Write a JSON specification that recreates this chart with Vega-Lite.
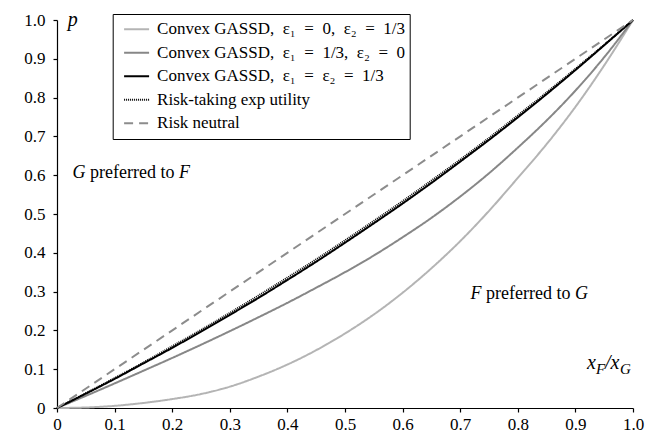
{
  "$schema": "https://vega.github.io/schema/vega-lite/v6.json",
  "width": 576,
  "height": 388,
  "autosize": {"type": "none"},
  "padding": {"left": 57, "top": 20, "right": 24, "bottom": 26},
  "background": "white",
  "config": {
    "view": {"stroke": null},
    "axis": {"grid": false, "domainColor": "black", "tickColor": "black", "labelColor": "black", "labelFont": "Liberation Serif", "labelFontSize": 17, "tickSize": 4, "title": null, "domainWidth": 1.2, "tickWidth": 1.2, "labelOverlap": false},
    "text": {"font": "Liberation Serif", "color": "black"}
  },
  "datasets": {
    "curves": [
      {"s": "Convex GASSD,\u2002ε₁\u2002=\u20020,\u2002ε₂\u2002=\u20021/3", "x": 0, "p": 0},
      {"s": "Convex GASSD,\u2002ε₁\u2002=\u20020,\u2002ε₂\u2002=\u20021/3", "x": 0.05, "p": 0.0013},
      {"s": "Convex GASSD,\u2002ε₁\u2002=\u20020,\u2002ε₂\u2002=\u20021/3", "x": 0.1, "p": 0.0055},
      {"s": "Convex GASSD,\u2002ε₁\u2002=\u20020,\u2002ε₂\u2002=\u20021/3", "x": 0.15, "p": 0.013},
      {"s": "Convex GASSD,\u2002ε₁\u2002=\u20020,\u2002ε₂\u2002=\u20021/3", "x": 0.2, "p": 0.023},
      {"s": "Convex GASSD,\u2002ε₁\u2002=\u20020,\u2002ε₂\u2002=\u20021/3", "x": 0.25, "p": 0.036},
      {"s": "Convex GASSD,\u2002ε₁\u2002=\u20020,\u2002ε₂\u2002=\u20021/3", "x": 0.3, "p": 0.055},
      {"s": "Convex GASSD,\u2002ε₁\u2002=\u20020,\u2002ε₂\u2002=\u20021/3", "x": 0.35, "p": 0.081},
      {"s": "Convex GASSD,\u2002ε₁\u2002=\u20020,\u2002ε₂\u2002=\u20021/3", "x": 0.4, "p": 0.112},
      {"s": "Convex GASSD,\u2002ε₁\u2002=\u20020,\u2002ε₂\u2002=\u20021/3", "x": 0.45, "p": 0.149},
      {"s": "Convex GASSD,\u2002ε₁\u2002=\u20020,\u2002ε₂\u2002=\u20021/3", "x": 0.5, "p": 0.192},
      {"s": "Convex GASSD,\u2002ε₁\u2002=\u20020,\u2002ε₂\u2002=\u20021/3", "x": 0.55, "p": 0.241},
      {"s": "Convex GASSD,\u2002ε₁\u2002=\u20020,\u2002ε₂\u2002=\u20021/3", "x": 0.6, "p": 0.297},
      {"s": "Convex GASSD,\u2002ε₁\u2002=\u20020,\u2002ε₂\u2002=\u20021/3", "x": 0.65, "p": 0.36},
      {"s": "Convex GASSD,\u2002ε₁\u2002=\u20020,\u2002ε₂\u2002=\u20021/3", "x": 0.7, "p": 0.43},
      {"s": "Convex GASSD,\u2002ε₁\u2002=\u20020,\u2002ε₂\u2002=\u20021/3", "x": 0.75, "p": 0.508},
      {"s": "Convex GASSD,\u2002ε₁\u2002=\u20020,\u2002ε₂\u2002=\u20021/3", "x": 0.8, "p": 0.593},
      {"s": "Convex GASSD,\u2002ε₁\u2002=\u20020,\u2002ε₂\u2002=\u20021/3", "x": 0.85, "p": 0.68},
      {"s": "Convex GASSD,\u2002ε₁\u2002=\u20020,\u2002ε₂\u2002=\u20021/3", "x": 0.9, "p": 0.776},
      {"s": "Convex GASSD,\u2002ε₁\u2002=\u20020,\u2002ε₂\u2002=\u20021/3", "x": 0.95, "p": 0.883},
      {"s": "Convex GASSD,\u2002ε₁\u2002=\u20020,\u2002ε₂\u2002=\u20021/3", "x": 1, "p": 1},
      {"s": "Convex GASSD,\u2002ε₁\u2002=\u20021/3,\u2002ε₂\u2002=\u20020", "x": 0, "p": 0},
      {"s": "Convex GASSD,\u2002ε₁\u2002=\u20021/3,\u2002ε₂\u2002=\u20020", "x": 0.05, "p": 0.0313},
      {"s": "Convex GASSD,\u2002ε₁\u2002=\u20021/3,\u2002ε₂\u2002=\u20020", "x": 0.1, "p": 0.0633},
      {"s": "Convex GASSD,\u2002ε₁\u2002=\u20021/3,\u2002ε₂\u2002=\u20020", "x": 0.15, "p": 0.096},
      {"s": "Convex GASSD,\u2002ε₁\u2002=\u20021/3,\u2002ε₂\u2002=\u20020", "x": 0.2, "p": 0.129},
      {"s": "Convex GASSD,\u2002ε₁\u2002=\u20021/3,\u2002ε₂\u2002=\u20020", "x": 0.25, "p": 0.163},
      {"s": "Convex GASSD,\u2002ε₁\u2002=\u20021/3,\u2002ε₂\u2002=\u20020", "x": 0.3, "p": 0.198},
      {"s": "Convex GASSD,\u2002ε₁\u2002=\u20021/3,\u2002ε₂\u2002=\u20020", "x": 0.35, "p": 0.234},
      {"s": "Convex GASSD,\u2002ε₁\u2002=\u20021/3,\u2002ε₂\u2002=\u20020", "x": 0.4, "p": 0.271},
      {"s": "Convex GASSD,\u2002ε₁\u2002=\u20021/3,\u2002ε₂\u2002=\u20020", "x": 0.45, "p": 0.31},
      {"s": "Convex GASSD,\u2002ε₁\u2002=\u20021/3,\u2002ε₂\u2002=\u20020", "x": 0.5, "p": 0.35},
      {"s": "Convex GASSD,\u2002ε₁\u2002=\u20021/3,\u2002ε₂\u2002=\u20020", "x": 0.55, "p": 0.393},
      {"s": "Convex GASSD,\u2002ε₁\u2002=\u20021/3,\u2002ε₂\u2002=\u20020", "x": 0.6, "p": 0.44},
      {"s": "Convex GASSD,\u2002ε₁\u2002=\u20021/3,\u2002ε₂\u2002=\u20020", "x": 0.65, "p": 0.49},
      {"s": "Convex GASSD,\u2002ε₁\u2002=\u20021/3,\u2002ε₂\u2002=\u20020", "x": 0.7, "p": 0.545},
      {"s": "Convex GASSD,\u2002ε₁\u2002=\u20021/3,\u2002ε₂\u2002=\u20020", "x": 0.75, "p": 0.605},
      {"s": "Convex GASSD,\u2002ε₁\u2002=\u20021/3,\u2002ε₂\u2002=\u20020", "x": 0.8, "p": 0.671},
      {"s": "Convex GASSD,\u2002ε₁\u2002=\u20021/3,\u2002ε₂\u2002=\u20020", "x": 0.85, "p": 0.741},
      {"s": "Convex GASSD,\u2002ε₁\u2002=\u20021/3,\u2002ε₂\u2002=\u20020", "x": 0.9, "p": 0.818},
      {"s": "Convex GASSD,\u2002ε₁\u2002=\u20021/3,\u2002ε₂\u2002=\u20020", "x": 0.95, "p": 0.904},
      {"s": "Convex GASSD,\u2002ε₁\u2002=\u20021/3,\u2002ε₂\u2002=\u20020", "x": 1, "p": 1},
      {"s": "Convex GASSD,\u2002ε₁\u2002=\u2002ε₂\u2002=\u20021/3", "x": 0, "p": 0},
      {"s": "Convex GASSD,\u2002ε₁\u2002=\u2002ε₂\u2002=\u20021/3", "x": 0.05, "p": 0.037},
      {"s": "Convex GASSD,\u2002ε₁\u2002=\u2002ε₂\u2002=\u20021/3", "x": 0.1, "p": 0.075},
      {"s": "Convex GASSD,\u2002ε₁\u2002=\u2002ε₂\u2002=\u20021/3", "x": 0.15, "p": 0.115},
      {"s": "Convex GASSD,\u2002ε₁\u2002=\u2002ε₂\u2002=\u20021/3", "x": 0.2, "p": 0.155},
      {"s": "Convex GASSD,\u2002ε₁\u2002=\u2002ε₂\u2002=\u20021/3", "x": 0.25, "p": 0.197},
      {"s": "Convex GASSD,\u2002ε₁\u2002=\u2002ε₂\u2002=\u20021/3", "x": 0.3, "p": 0.24},
      {"s": "Convex GASSD,\u2002ε₁\u2002=\u2002ε₂\u2002=\u20021/3", "x": 0.35, "p": 0.284},
      {"s": "Convex GASSD,\u2002ε₁\u2002=\u2002ε₂\u2002=\u20021/3", "x": 0.4, "p": 0.33},
      {"s": "Convex GASSD,\u2002ε₁\u2002=\u2002ε₂\u2002=\u20021/3", "x": 0.45, "p": 0.377},
      {"s": "Convex GASSD,\u2002ε₁\u2002=\u2002ε₂\u2002=\u20021/3", "x": 0.5, "p": 0.426},
      {"s": "Convex GASSD,\u2002ε₁\u2002=\u2002ε₂\u2002=\u20021/3", "x": 0.55, "p": 0.476},
      {"s": "Convex GASSD,\u2002ε₁\u2002=\u2002ε₂\u2002=\u20021/3", "x": 0.6, "p": 0.527},
      {"s": "Convex GASSD,\u2002ε₁\u2002=\u2002ε₂\u2002=\u20021/3", "x": 0.65, "p": 0.58},
      {"s": "Convex GASSD,\u2002ε₁\u2002=\u2002ε₂\u2002=\u20021/3", "x": 0.7, "p": 0.635},
      {"s": "Convex GASSD,\u2002ε₁\u2002=\u2002ε₂\u2002=\u20021/3", "x": 0.75, "p": 0.691},
      {"s": "Convex GASSD,\u2002ε₁\u2002=\u2002ε₂\u2002=\u20021/3", "x": 0.8, "p": 0.749},
      {"s": "Convex GASSD,\u2002ε₁\u2002=\u2002ε₂\u2002=\u20021/3", "x": 0.85, "p": 0.809},
      {"s": "Convex GASSD,\u2002ε₁\u2002=\u2002ε₂\u2002=\u20021/3", "x": 0.9, "p": 0.871},
      {"s": "Convex GASSD,\u2002ε₁\u2002=\u2002ε₂\u2002=\u20021/3", "x": 0.95, "p": 0.935},
      {"s": "Convex GASSD,\u2002ε₁\u2002=\u2002ε₂\u2002=\u20021/3", "x": 1, "p": 1},
      {"s": "Risk-taking exp utility", "x": 0, "p": 0},
      {"s": "Risk-taking exp utility", "x": 0.05, "p": 0.038},
      {"s": "Risk-taking exp utility", "x": 0.1, "p": 0.077},
      {"s": "Risk-taking exp utility", "x": 0.15, "p": 0.117},
      {"s": "Risk-taking exp utility", "x": 0.2, "p": 0.159},
      {"s": "Risk-taking exp utility", "x": 0.25, "p": 0.201},
      {"s": "Risk-taking exp utility", "x": 0.3, "p": 0.245},
      {"s": "Risk-taking exp utility", "x": 0.35, "p": 0.29},
      {"s": "Risk-taking exp utility", "x": 0.4, "p": 0.336},
      {"s": "Risk-taking exp utility", "x": 0.45, "p": 0.383},
      {"s": "Risk-taking exp utility", "x": 0.5, "p": 0.432},
      {"s": "Risk-taking exp utility", "x": 0.55, "p": 0.482},
      {"s": "Risk-taking exp utility", "x": 0.6, "p": 0.533},
      {"s": "Risk-taking exp utility", "x": 0.65, "p": 0.586},
      {"s": "Risk-taking exp utility", "x": 0.7, "p": 0.64},
      {"s": "Risk-taking exp utility", "x": 0.75, "p": 0.696},
      {"s": "Risk-taking exp utility", "x": 0.8, "p": 0.754},
      {"s": "Risk-taking exp utility", "x": 0.85, "p": 0.813},
      {"s": "Risk-taking exp utility", "x": 0.9, "p": 0.874},
      {"s": "Risk-taking exp utility", "x": 0.95, "p": 0.936},
      {"s": "Risk-taking exp utility", "x": 1, "p": 1},
      {"s": "Risk neutral", "x": 0, "p": 0},
      {"s": "Risk neutral", "x": 1, "p": 1}
    ]
  },
  "encoding": {
    "x": {"field": "x", "type": "quantitative", "scale": {"domain": [0, 1], "nice": false, "zero": false},
          "axis": {"values": [0, 0.1, 0.2, 0.3, 0.4, 0.5, 0.6, 0.7, 0.8, 0.9, 1], "labelExpr": "datum.value == 0 ? '0' : format(datum.value, '.1f')", "labelPadding": 4, "labelFlush": false, "labelOverlap": false}},
    "y": {"field": "p", "type": "quantitative", "scale": {"domain": [0, 1], "nice": false},
          "axis": {"values": [0, 0.1, 0.2, 0.3, 0.4, 0.5, 0.6, 0.7, 0.8, 0.9, 1], "labelExpr": "datum.value == 0 ? '0' : format(datum.value, '.1f')", "labelPadding": 8, "labelFlush": false, "labelOverlap": false}}
  },
  "layer": [
    {
      "data": {"name": "curves"},
      "mark": {"type": "line", "interpolate": "monotone", "clip": false},
      "encoding": {
        "color": {"field": "s", "type": "nominal",
          "scale": {"domain": ["Convex GASSD,\u2002ε₁\u2002=\u20020,\u2002ε₂\u2002=\u20021/3", "Convex GASSD,\u2002ε₁\u2002=\u20021/3,\u2002ε₂\u2002=\u20020", "Convex GASSD,\u2002ε₁\u2002=\u2002ε₂\u2002=\u20021/3", "Risk-taking exp utility", "Risk neutral"],
                    "range": ["#b4b4b4", "#878787", "#000000", "#000000", "#8c8c8c"]},
          "legend": {"title": null, "orient": "none", "legendX": 55.7, "legendY": -6, "symbolType": "stroke", "symbolSize": 625, "symbolOffset": 6, "labelFont": "Liberation Serif", "labelFontSize": 17, "labelColor": "black", "labelLimit": 600, "strokeColor": "black", "fillColor": "white", "padding": 4.4, "rowPadding": 1.5, "clipHeight": 21.8, "labelOffset": 7, "symbolStrokeWidth": 2}},
        "strokeDash": {"field": "s", "type": "nominal",
          "scale": {"domain": ["Convex GASSD,\u2002ε₁\u2002=\u20020,\u2002ε₂\u2002=\u20021/3", "Convex GASSD,\u2002ε₁\u2002=\u20021/3,\u2002ε₂\u2002=\u20020", "Convex GASSD,\u2002ε₁\u2002=\u2002ε₂\u2002=\u20021/3", "Risk-taking exp utility", "Risk neutral"],
                    "range": [[1, 0], [1, 0], [1, 0], [1, 1], [9, 6]]},
          "legend": {"title": null}},
        "strokeWidth": {"field": "s", "type": "nominal",
          "scale": {"domain": ["Convex GASSD,\u2002ε₁\u2002=\u20020,\u2002ε₂\u2002=\u20021/3", "Convex GASSD,\u2002ε₁\u2002=\u20021/3,\u2002ε₂\u2002=\u20020", "Convex GASSD,\u2002ε₁\u2002=\u2002ε₂\u2002=\u20021/3", "Risk-taking exp utility", "Risk neutral"],
                    "range": [2, 2, 1.6, 1.2, 2]},
          "legend": null}
      }
    },
    {
      "data": {"values": [{"x": 0.0186, "p": 1.0, "t": "p"}]},
      "mark": {"type": "text", "align": "left", "baseline": "middle", "fontStyle": "italic", "fontSize": 20},
      "encoding": {"text": {"field": "t"}}
    },
    {
      "data": {"values": [{"x": 0.92, "p": 0.1, "t": "x"}]},
      "mark": {"type": "text", "align": "left", "baseline": "alphabetic", "fontStyle": "italic", "fontSize": 20},
      "encoding": {"text": {"field": "t"}}
    },
    {
      "data": {"values": [{"x": 0.92, "p": 0.1, "t": "F"}]},
      "mark": {"type": "text", "align": "left", "baseline": "alphabetic", "fontStyle": "italic", "fontSize": 15, "dx": 9, "dy": 5},
      "encoding": {"text": {"field": "t"}}
    },
    {
      "data": {"values": [{"x": 0.92, "p": 0.1, "t": "/x"}]},
      "mark": {"type": "text", "align": "left", "baseline": "alphabetic", "fontStyle": "italic", "fontSize": 20, "dx": 18},
      "encoding": {"text": {"field": "t"}}
    },
    {
      "data": {"values": [{"x": 0.92, "p": 0.1, "t": "G"}]},
      "mark": {"type": "text", "align": "left", "baseline": "alphabetic", "fontStyle": "italic", "fontSize": 15, "dx": 33, "dy": 5},
      "encoding": {"text": {"field": "t"}}
    },
    {
      "data": {"values": [{"x": 0.027, "p": 0.606, "t": "G"}, {"x": 0.718, "p": 0.295, "t": "F"}]},
      "mark": {"type": "text", "align": "left", "baseline": "middle", "fontStyle": "italic", "fontSize": 18},
      "encoding": {"text": {"field": "t"}}
    },
    {
      "data": {"values": [{"x": 0.027, "p": 0.606, "t": "preferred to"}]},
      "mark": {"type": "text", "align": "left", "baseline": "middle", "fontSize": 18, "dx": 17.5},
      "encoding": {"text": {"field": "t"}}
    },
    {
      "data": {"values": [{"x": 0.718, "p": 0.295, "t": "preferred to"}]},
      "mark": {"type": "text", "align": "left", "baseline": "middle", "fontSize": 18, "dx": 15.5},
      "encoding": {"text": {"field": "t"}}
    },
    {
      "data": {"values": [{"x": 0.027, "p": 0.606, "t": "F"}]},
      "mark": {"type": "text", "align": "left", "baseline": "middle", "fontStyle": "italic", "fontSize": 18, "dx": 106.5},
      "encoding": {"text": {"field": "t"}}
    },
    {
      "data": {"values": [{"x": 0.718, "p": 0.295, "t": "G"}]},
      "mark": {"type": "text", "align": "left", "baseline": "middle", "fontStyle": "italic", "fontSize": 18, "dx": 104.5},
      "encoding": {"text": {"field": "t"}}
    }
  ]
}
